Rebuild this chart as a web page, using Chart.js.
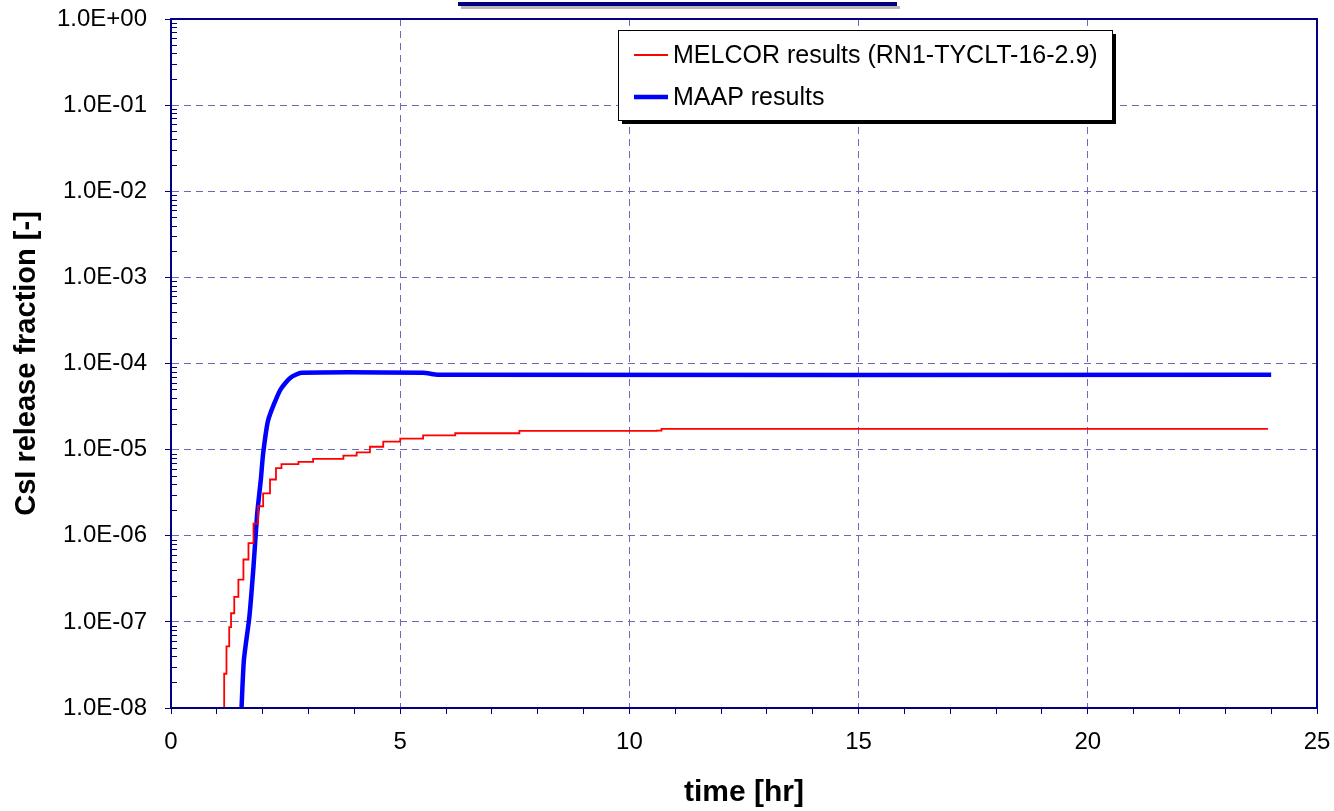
<!DOCTYPE html>
<html>
<head>
<meta charset="utf-8">
<script src="https://cdn.jsdelivr.net/npm/chart.js@4/dist/chart.umd.min.js"></script>
<style>
  html, body { margin: 0; padding: 0; background: #fff; }
  #wrap { width: 1334px; height: 811px; }
</style>
</head>
<body>
<div id="wrap"><canvas id="releaseChart"></canvas></div>
<script>
// ----- data -----
const melcorTime = [1.16, 1.16, 1.21, 1.27, 1.31, 1.38, 1.47, 1.58, 1.69, 1.80, 1.90, 2.01, 2.16, 2.29, 2.41, 2.78, 3.10, 3.76, 4.05, 4.34, 4.63, 5.0, 5.5, 6.2, 7.6, 10.6, 10.7, 23.93];
const melcorFrac = [9e-9, 2.5e-8, 5.2e-8, 8.7e-8, 1.26e-7, 1.95e-7, 3.1e-7, 5.3e-7, 8.2e-7, 1.38e-6, 2.2e-6, 3.1e-6, 4.5e-6, 6.1e-6, 6.8e-6, 7.2e-6, 7.8e-6, 8.5e-6, 9.3e-6, 1.08e-5, 1.24e-5, 1.34e-5, 1.46e-5, 1.55e-5, 1.65e-5, 1.66e-5, 1.74e-5, 1.74e-5];

const maapTime = [1.535, 1.59, 1.71, 1.80, 1.88, 1.96, 2.01, 2.12, 2.38, 2.60, 2.85, 5.5, 5.83, 24.0];
const maapFrac = [9e-9, 3.6e-8, 1.15e-7, 4.4e-7, 1.8e-6, 4.5e-6, 9e-6, 2.2e-5, 4.9e-5, 6.8e-5, 7.8e-5, 7.8e-5, 7.4e-5, 7.4e-5];

const seriesLabels = ["MELCOR results (RN1-TYCLT-16-2.9)", "MAAP results"];
const yDecades = [-8, -7, -6, -5, -4, -3, -2, -1, 0];
const xTicks = [0, 5, 10, 15, 20, 25];

const NAVY = "#000080";
const GRID = "#6a6ab8";
const FONT = "'Liberation Sans', Arial, sans-serif";

function pairs(xs, ys) {
    return xs.map((x, i) => ({ x: x, y: ys[i] }));
}

function isDecade(v) {
    const l = Math.log10(v);
    return Math.abs(l - Math.round(l)) < 1e-9;
}

// frame, inner minor ticks, legend box, clipped title box
const framePlugin = {
    id: "frame",
    afterDraw(chart) {
        const ctx = chart.ctx;
        const a = chart.chartArea;
        ctx.save();

        // minor log ticks on the inside of the y axis
        ctx.strokeStyle = NAVY;
        ctx.lineWidth = 1;
        chart.scales.y.ticks.forEach(t => {
            if (isDecade(t.value)) return;
            const py = Math.round(chart.scales.y.getPixelForValue(t.value)) + 0.5;
            ctx.beginPath();
            ctx.moveTo(a.left, py);
            ctx.lineTo(a.left + 6, py);
            ctx.stroke();
        });

        // box around plot area
        ctx.strokeStyle = NAVY;
        ctx.lineWidth = 2;
        ctx.strokeRect(a.left, a.top, a.right - a.left, a.bottom - a.top);

        // remains of the title box cut by the top edge
        ctx.fillStyle = "#b8b8b8";
        ctx.fillRect(461, 6, 439, 3);
        ctx.fillStyle = NAVY;
        ctx.fillRect(458, 2, 439, 4);

        // legend
        const lx = 618, ly = 30, lw = 494, lh = 90;
        ctx.fillStyle = "#000";
        ctx.fillRect(lx + 4, ly + 4, lw, lh);
        ctx.fillStyle = "#fff";
        ctx.fillRect(lx, ly, lw, lh);
        ctx.strokeStyle = "#000";
        ctx.lineWidth = 1;
        ctx.strokeRect(lx + 0.5, ly + 0.5, lw, lh);

        const rows = [55, 97];
        ctx.font = "25px " + FONT;
        ctx.textBaseline = "middle";
        ctx.textAlign = "left";
        chart.data.datasets.forEach((ds, i) => {
            ctx.strokeStyle = ds.borderColor;
            ctx.lineWidth = ds.borderWidth;
            ctx.beginPath();
            ctx.moveTo(634, rows[i]);
            ctx.lineTo(668, rows[i]);
            ctx.stroke();
            ctx.fillStyle = "#000";
            ctx.fillText(ds.label, 673, rows[i] + 1);
        });
        ctx.restore();
    }
};

const ctxRelease = document.getElementById("releaseChart");

new Chart(ctxRelease, {
    type: "line",
    data: {
        datasets: [{
            label: seriesLabels[0],
            data: pairs(melcorTime, melcorFrac),
            borderColor: "#ff0000",
            borderWidth: 1.8,
            pointRadius: 0,
            stepped: true
        }, {
            label: seriesLabels[1],
            data: pairs(maapTime, maapFrac),
            borderColor: "#0000ff",
            borderWidth: 4.5,
            pointRadius: 0,
            tension: 0.2
        }]
    },
    options: {
        responsive: true,
        maintainAspectRatio: false,
        animation: false,
        layout: {
            padding: { top: 19, right: 17, left: 0, bottom: 0 }
        },
        plugins: {
            legend: { display: false },
            tooltip: { enabled: false }
        },
        scales: {
            x: {
                type: "linear",
                min: 0,
                max: 25,
                afterFit: s => {
                    s.height = 103;
                    s.paddingLeft = 0;
                    s.paddingRight = 0;
                },
                afterBuildTicks: s => {
                    const t = [];
                    for (let v = 0; v <= 25; v++) t.push({ value: v });
                    s.ticks = t;
                },
                ticks: {
                    autoSkip: false,
                    maxRotation: 0,
                    padding: 14,
                    color: "#000",
                    font: { family: FONT, size: 24 },
                    callback: v => xTicks.includes(v) ? String(v) : ""
                },
                grid: {
                    color: c => (c.tick && c.tick.value % 5 === 0 && c.tick.value > 0 && c.tick.value < 25) ? GRID : "transparent",
                    tickColor: NAVY,
                    tickLength: 6,
                    lineWidth: 1
                },
                border: { color: NAVY, width: 2, dash: [7, 5] },
                title: {
                    display: true,
                    text: "time [hr]",
                    color: "#000",
                    font: { family: FONT, size: 30, weight: "bold" },
                    padding: { top: 0, bottom: 0 }
                }
            },
            y: {
                type: "logarithmic",
                min: 1e-8,
                max: 1,
                afterFit: s => {
                    s.width = 171;
                    s.paddingTop = 0;
                    s.paddingBottom = 0;
                },
                afterBuildTicks: s => {
                    const t = [];
                    yDecades.forEach(e => {
                        const top = e === 0 ? 1 : 9;
                        for (let m = 1; m <= top; m++) t.push({ value: m * Math.pow(10, e) });
                    });
                    s.ticks = t;
                },
                ticks: {
                    autoSkip: false,
                    padding: 18,
                    color: "#000",
                    font: { family: FONT, size: 24 },
                    callback: v => {
                        if (!isDecade(v)) return "";
                        const e = Math.round(Math.log10(v));
                        const sgn = e < 0 ? "-" : "+";
                        return "1.0E" + sgn + String(Math.abs(e)).padStart(2, "0");
                    }
                },
                grid: {
                    color: c => (c.tick && isDecade(c.tick.value) && c.tick.value > 1e-8 && c.tick.value < 1) ? GRID : "transparent",
                    tickColor: c => (c.tick && isDecade(c.tick.value)) ? NAVY : "transparent",
                    tickLength: 6,
                    lineWidth: 1
                },
                border: { color: NAVY, width: 2, dash: [7, 5] },
                title: {
                    display: true,
                    text: "CsI release fraction [-]",
                    color: "#000",
                    font: { family: FONT, size: 29, weight: "bold" },
                    padding: { top: 10, bottom: 0 }
                }
            }
        }
    },
    plugins: [framePlugin]
});
</script>
</body>
</html>
